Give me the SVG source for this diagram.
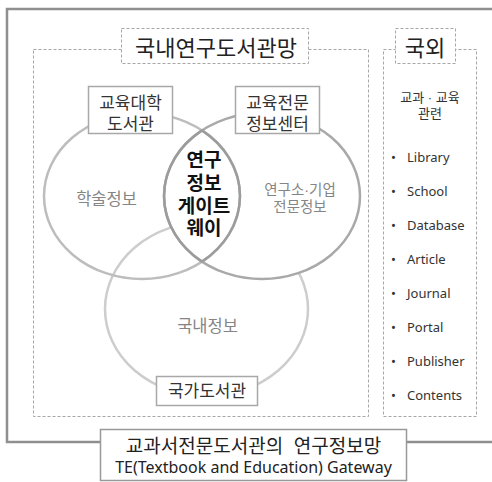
<svg xmlns="http://www.w3.org/2000/svg" width="492" height="482" viewBox="0 0 492 482">
<style>
text{font-family:"Liberation Sans","Noto Sans CJK KR",sans-serif}
text.en,.en text{font-family:"Noto Sans","Noto Sans CJK KR",sans-serif}
.frame{fill:none;stroke:#8f8f8f;stroke-width:2.5}
.dash{fill:none;stroke:#a6a6a6;stroke-width:1;stroke-dasharray:3 2}
.dashbox{fill:#fff;stroke:#a6a6a6;stroke-width:1;stroke-dasharray:3 2}
.box{fill:#fff;stroke:#a8a8a8;stroke-width:1.5}
.title{fill:#222;font-size:22px;text-anchor:middle}
.lab{fill:#333;font-size:17px;text-anchor:middle}
.area{fill:#858585;text-anchor:middle}
.item text{fill:#333;font-size:13px}
.gw{font-size:19px;font-weight:bold;fill:#111;text-anchor:middle}
.ring{stroke-width:2.5}
</style>
<rect width="492" height="482" fill="#fff"/>
<g id="outer-frame">
<path class="frame" d="M494,9 H7 V442 H494"/>
</g>
<g id="domestic">
<rect class="dash" x="33.5" y="49.5" width="335" height="367"/>
</g>
<g id="domestic-title">
<rect class="dashbox" x="121.5" y="28.5" width="187" height="35"/>
<text class="title" x="216" y="56">국내연구도서관망</text>
</g>
<g id="circle-national">
<ellipse class="ring" cx="206.5" cy="309" rx="101.5" ry="87" fill="none" stroke="#cdcdcd"/>
</g>
<g id="circle-edu-center">
<ellipse class="ring" cx="262" cy="196" rx="98" ry="83" fill="#fff" stroke="#a9a9a9"/>
</g>
<g id="circle-univ">
<ellipse class="ring" cx="142" cy="196" rx="98" ry="83" fill="none" stroke="#bdbdbd"/>
</g>
<g id="gateway">
<path class="ring" d="M202,130.4 A98,83 0 0 1 202,261.6 A98,83 0 0 1 202,130.4 Z" fill="none" stroke="#9c9c9c"/>
<text class="gw" x="204" y="167">연구</text>
<text class="gw" x="204" y="190">정보</text>
<text class="gw" x="204" y="212.5">게이트</text>
<text class="gw" x="204" y="235">웨이</text>
</g>
<g id="label-academic">
<text class="area" x="106.5" y="205" font-size="16.5">학술정보</text>
</g>
<g id="label-research">
<text class="area" x="300" y="195" font-size="14.5">연구소·기업</text>
<text class="area" x="300" y="212" font-size="14.5">전문정보</text>
</g>
<g id="label-domestic">
<text class="area" x="207.5" y="332" font-size="16.5">국내정보</text>
</g>
<g id="univ-library">
<rect class="box" x="88.5" y="86.5" width="84" height="47"/>
<text class="lab" x="130.5" y="109">교육대학</text>
<text class="lab" x="130.5" y="129.5">도서관</text>
</g>
<g id="edu-info-center">
<rect class="box" x="235.5" y="86.5" width="84" height="47"/>
<text class="lab" x="277.5" y="109">교육전문</text>
<text class="lab" x="277.5" y="129.5">정보센터</text>
</g>
<g id="national-library">
<rect class="box" x="156.5" y="376.5" width="101" height="29"/>
<text class="lab" x="207" y="397">국가도서관</text>
</g>
<g id="foreign">
<rect class="dash" x="383.5" y="49.5" width="93" height="367"/>
<text x="430" y="102" font-size="13" fill="#333" text-anchor="middle">교과 · 교육</text>
<text x="430" y="118" font-size="13" fill="#333" text-anchor="middle">관련</text>
<g class="en item">
<text x="391" y="162">•</text><text x="407" y="162">Library</text>
<text x="391" y="196">•</text><text x="407" y="196">School</text>
<text x="391" y="230">•</text><text x="407" y="230">Database</text>
<text x="391" y="264">•</text><text x="407" y="264">Article</text>
<text x="391" y="298">•</text><text x="407" y="298">Journal</text>
<text x="391" y="332">•</text><text x="407" y="332">Portal</text>
<text x="391" y="366">•</text><text x="407" y="366">Publisher</text>
<text x="391" y="400">•</text><text x="407" y="400">Contents</text>
</g>
</g>
<g id="foreign-title">
<rect class="dashbox" x="395.5" y="28.5" width="60" height="35"/>
<text class="title" x="425" y="56">국외</text>
</g>
<g id="gateway-network-title">
<rect x="100.5" y="429.5" width="306" height="51" fill="#fff" stroke="#999" stroke-width="1.5"/>
<text x="253.5" y="453" font-size="19" fill="#222" text-anchor="middle" xml:space="preserve">교과서전문도서관의  연구정보망</text>
<text class="en" x="253.5" y="472.5" font-size="16" fill="#222" text-anchor="middle">TE(Textbook and Education) Gateway</text>
</g>
<g id="connectors"/>
</svg>
